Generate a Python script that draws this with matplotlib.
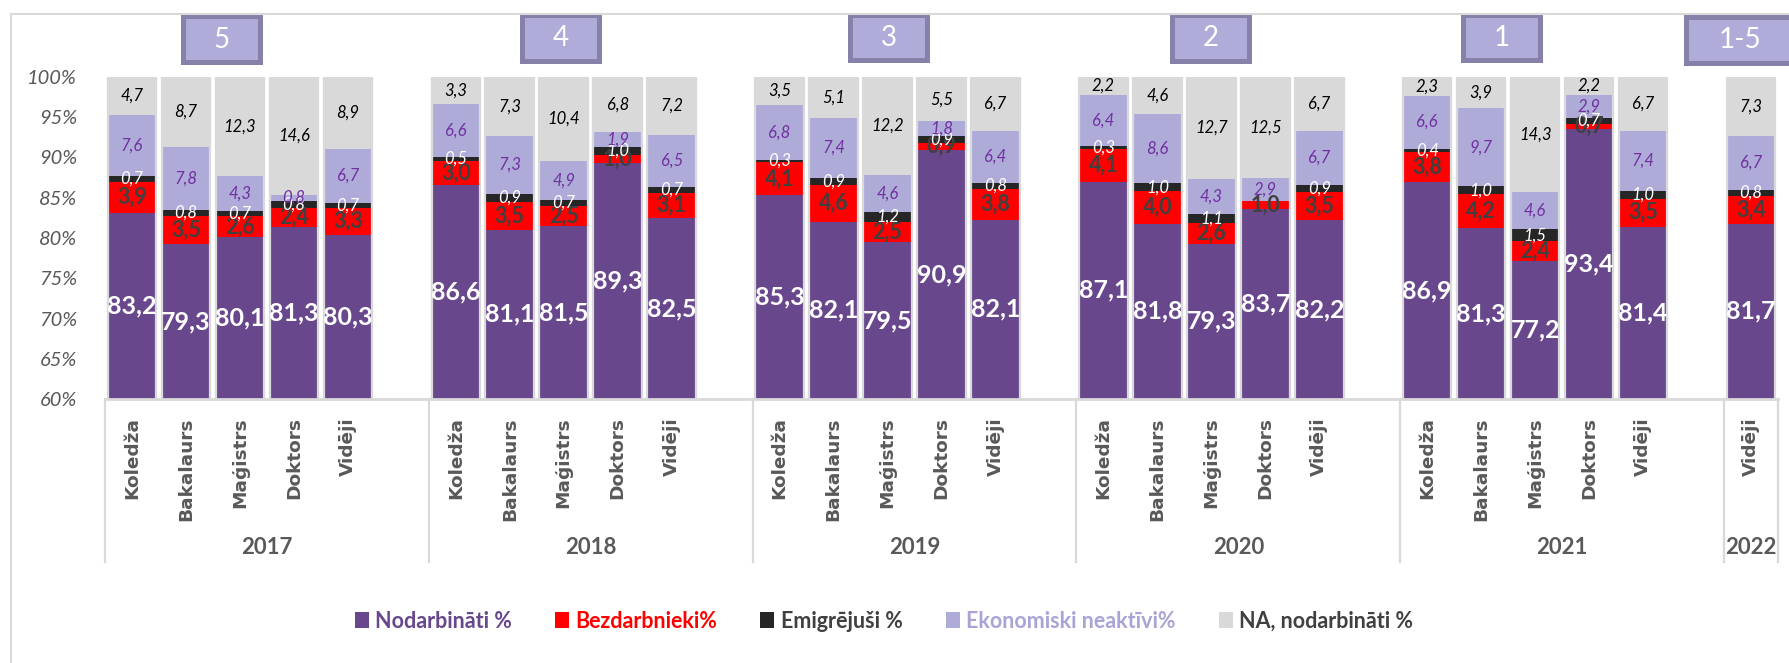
import numpy as np
import matplotlib
matplotlib.use('Agg')
import matplotlib.pyplot as plt
from matplotlib.patches import Rectangle, Patch
from matplotlib.lines import Line2D
import matplotlib.transforms as mtransforms

# Dati (procenti)
years = ['2017', '2018', '2019', '2020', '2021', '2022']
levels = ['Koledža', 'Bakalaurs', 'Maģistrs', 'Doktors', 'Vidēji']
bar_years = ['2017'] * 5 + ['2018'] * 5 + ['2019'] * 5 + ['2020'] * 5 + ['2021'] * 5 + ['2022']
bar_levels = levels * 5 + ['Vidēji']

nodarbinati = [83.2, 79.3, 80.1, 81.3, 80.3,
               86.6, 81.1, 81.5, 89.3, 82.5,
               85.3, 82.1, 79.5, 90.9, 82.1,
               87.1, 81.8, 79.3, 83.7, 82.2,
               86.9, 81.3, 77.2, 93.4, 81.4,
               81.7]
bezdarbnieki = [3.9, 3.5, 2.6, 2.4, 3.3,
                3.0, 3.5, 2.5, 1.0, 3.1,
                4.1, 4.6, 2.5, 0.9, 3.8,
                4.1, 4.0, 2.6, 1.0, 3.5,
                3.8, 4.2, 2.4, 0.7, 3.5,
                3.4]
emigrejusi = [0.7, 0.8, 0.7, 0.8, 0.7,
              0.5, 0.9, 0.7, 1.0, 0.7,
              0.3, 0.9, 1.2, 0.9, 0.8,
              0.3, 1.0, 1.1, 0.0, 0.9,
              0.4, 1.0, 1.5, 0.7, 1.0,
              0.8]
neaktivi = [7.6, 7.8, 4.3, 0.8, 6.7,
            6.6, 7.3, 4.9, 1.9, 6.5,
            6.8, 7.4, 4.6, 1.8, 6.4,
            6.4, 8.6, 4.3, 2.9, 6.7,
            6.6, 9.7, 4.6, 2.9, 7.4,
            6.7]
na_nodarbinati = [4.7, 8.7, 12.3, 14.6, 8.9,
                  3.3, 7.3, 10.4, 6.8, 7.2,
                  3.5, 5.1, 12.2, 5.5, 6.7,
                  2.2, 4.6, 12.7, 12.5, 6.7,
                  2.3, 3.9, 14.3, 2.2, 6.7,
                  7.3]

series_names = ['Nodarbināti %', 'Bezdarbnieki%', 'Emigrējuši %',
                'Ekonomiski neaktīvi%', 'NA, nodarbināti %']
box_labels = ['5', '4', '3', '2', '1', '1-5']

# krasas un stili
colors = ['#68478c', '#ff0000', '#262626', '#afabd9', '#d9d9d9']
legend_text_colors = ['#68478c', '#ff0000', '#404040', '#a9a4d6', '#404040']
label_styles = [
    dict(color='white', fontsize=18, fontweight='bold', fontstyle='normal'),
    dict(color='#404040', fontsize=15.5, fontweight='bold', fontstyle='normal'),
    dict(color='white', fontsize=12, fontweight='normal', fontstyle='italic'),
    dict(color='#7030a0', fontsize=12, fontweight='normal', fontstyle='italic'),
    dict(color='black', fontsize=12, fontweight='normal', fontstyle='italic'),
]
GRAY = '#595959'
LINE = '#d9d9d9'

W, H = 1790, 663
plt.rcParams['font.family'] = ['Lato', 'DejaVu Sans']

fig = plt.figure(figsize=(W / 100, H / 100), dpi=100)
ax = fig.add_axes([105 / W, (H - 399) / H, (1778 - 105) / W, 322 / H])

# x pozicijas: 6 vietas katrai grupai
x = []
count = {}
for y in bar_years:
    gi = years.index(y)
    k = count.get(y, 0)
    x.append(6 * gi + k)
    count[y] = k + 1
x = np.array(x, dtype=float)

data = np.array([nodarbinati, bezdarbnieki, emigrejusi, neaktivi, na_nodarbinati])
totals = data.sum(axis=0)
scaled = data / totals * 100

ymin, ymax = 60, 100
bottom = np.zeros(len(x))
for i in range(5):
    ax.bar(x, scaled[i], bottom=bottom, width=0.9, color=colors[i],
           edgecolor='none', zorder=2)
    for j in range(len(x)):
        v = data[i][j]
        if v <= 0:
            continue
        lo = max(bottom[j], ymin)
        hi = bottom[j] + scaled[i][j]
        yc = (lo + hi) / 2
        ax.text(x[j], yc, f'{v:.1f}'.replace('.', ','), ha='center', va='center',
                zorder=5, **label_styles[i])
    bottom += scaled[i]

# gaisi peleki bar kontūri
ax.bar(x, 100, width=0.9, fill=False, edgecolor=LINE, linewidth=1.6, zorder=3)

ax.set_xlim(-0.5, 30.5)
ax.set_ylim(ymin, ymax)
ax.set_yticks(np.arange(60, 101, 5))
ax.set_yticklabels([f'{t}%' for t in range(60, 101, 5)], fontstyle='italic',
                   fontsize=14.5, color=GRAY)
ax.set_xticks(x)
ax.set_xticklabels(bar_levels, rotation=90, fontsize=13.3, fontweight='bold',
                   color=GRAY, family='DejaVu Sans')
ax.tick_params(axis='x', length=0, pad=13)
ax.tick_params(axis='y', length=0, pad=20)
for s in ['top', 'right', 'left']:
    ax.spines[s].set_visible(False)
ax.spines['bottom'].set_color(LINE)
ax.spines['bottom'].set_linewidth(2)
ax.spines['bottom'].set_zorder(4)

# gadu grupas
trans = mtransforms.blended_transform_factory(ax.transData, ax.transAxes)
edges = [-0.5, 5.5, 11.5, 17.5, 23.5, 29.5, 30.5]
for e in edges:
    ax.add_line(Line2D([e, e], [0, -0.506], transform=trans, color=LINE,
                       linewidth=1.6, clip_on=False))
for gi, yr in enumerate(years):
    cx = (edges[gi] + edges[gi + 1]) / 2
    ax.text(cx, -0.46, yr, transform=trans, ha='center', va='center',
            fontsize=16, fontweight='bold', color=GRAY)

# ārejais rāmis
fig.add_artist(Line2D([11 / W, 1], [1 - 14 / H, 1 - 14 / H], color=LINE, linewidth=1.5))
fig.add_artist(Line2D([11 / W, 11 / W], [0, 1 - 14 / H], color=LINE, linewidth=1.5))

# numurētie lodziņi (pikseļos)
box_pos = [(181, 14, 82, 51), (520, 13, 82, 51), (848, 13, 82, 50),
           (1170, 13, 82, 51), (1461, 13, 82, 50), (1684, 15, 114, 51)]
for lab, (bx, by, bw, bh) in zip(box_labels, box_pos):
    fig.add_artist(Rectangle((bx / W, 1 - (by + bh) / H), bw / W, bh / H,
                             facecolor='#8581a8', edgecolor='none'))
    fig.add_artist(Rectangle(((bx + 5) / W, 1 - (by + bh - 5) / H), (bw - 10) / W,
                             (bh - 10) / H, facecolor='#b0acda', edgecolor='none'))
    tx = bx + bw / 2 if lab != '1-5' else 1740
    fig.text(tx / W, 1 - (by + bh / 2) / H, lab, ha='center', va='center',
             fontsize=20, color='white')

# leģenda
handles = [Patch(facecolor=c, edgecolor='none') for c in colors]
leg = fig.legend(handles, series_names, loc='center', bbox_to_anchor=(884 / W, 1 - 621 / H),
                 ncol=5, frameon=False, handlelength=0.65, handleheight=0.75,
                 handletextpad=0.3, columnspacing=2.0,
                 prop=dict(family='Lato', weight='bold', size=15.5))
for t, c in zip(leg.get_texts(), legend_text_colors):
    t.set_color(c)

fig.savefig('out.png', dpi=100)
